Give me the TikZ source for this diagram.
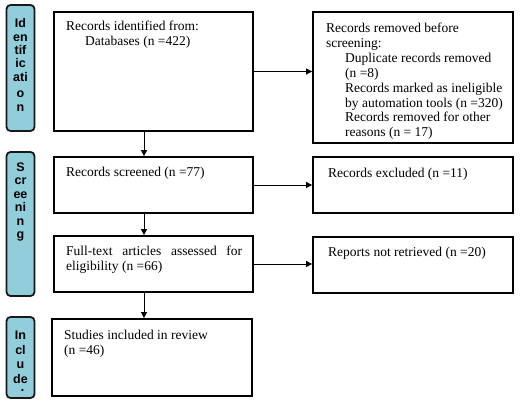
\documentclass[tikz,border=0pt]{standalone}
\usepackage{fontspec}
\setmainfont{Liberation Serif}
\newfontfamily\sidefont{Liberation Sans}
\usetikzlibrary{arrows.meta}
\definecolor{sideblue}{RGB}{146,205,220}
\definecolor{sideedge}{RGB}{25,25,25}
\tikzset{
  mainbox/.style={draw=black, line width=1.8pt, inner sep=0pt, fill=none},
  sidebox/.style={draw=sideedge, line width=1.8pt, fill=sideblue, rounded corners=4pt, inner sep=0pt, minimum width=28pt},
  txt/.style={inner sep=0pt, align=left, font=\fontsize{13.5}{14.86}\selectfont},
  sidetxt/.style={inner sep=0pt, align=center, font=\fontsize{12.5}{13.4}\sidefont\bfseries\selectfont},
  arr/.style={line width=0.8pt, -{Triangle[length=6pt,width=6pt]}},
  ln/.style={line width=0.8pt}
}
\begin{document}
\begin{tikzpicture}[x=1pt,y=-1pt]
\useasboundingbox[fill=white] (0,0) rectangle (525,406);

% side bars
\node[sidebox, minimum height=126pt] (s1) at (20.5,68) {};
\node[sidetxt, anchor=north] (s1t) at (20.5,18.5) {Id\\en\\tif\\ic\\ati\\[2.5pt]o\\[1pt]n};
\node[sidebox, minimum height=144pt] (s2) at (20.5,224) {};
\node[sidetxt, anchor=north] (s2t) at (20.5,162.5) {S\\cr\\ee\\ni\\n\\g};
\node[sidebox, minimum height=81pt] (s3) at (20.5,357.5) {};
\begin{scope}
  \clip (5,320) rectangle (36,390.5);
  \node[sidetxt, anchor=north, font=\fontsize{12.5}{14.7}\sidefont\bfseries\selectfont] (s3t) at (20.5,330.5) {In\\cl\\u\\de\\d};
\end{scope}

% texts
\node[txt, anchor=north west] (t1) at (66,21) {Records identified from:\\\hspace*{19pt}Databases (n =422)};
\begin{scope}
  \clip (313,12) rectangle (516,142);
  \node[txt, anchor=north west] (t2) at (326,23) {Records removed before\\screening:\\\hspace*{19pt}Duplicate records removed\\\hspace*{19pt}(n =8)\\\hspace*{19pt}Records marked as ineligible\\\hspace*{19pt}by automation tools (n =320)\\\hspace*{19pt}Records removed for other\\\hspace*{19pt}reasons (n = 17)};
\end{scope}
\node[txt, anchor=north west] (t3) at (66,167) {Records screened (n =77)};
\node[txt, anchor=north west] (t4) at (328,168) {Records excluded (n =11)};
\node[txt, anchor=north west] (t5) at (66,246) {\makebox[176pt][s]{Full-text articles assessed for}\\eligibility (n =66)};
\node[txt, anchor=north west] (t6) at (328,247) {Reports not retrieved (n =20)};
\node[txt, anchor=north west] (t7) at (64,330) {Studies included in review\\(n =46)};

% boxes
\node[mainbox, minimum width=199pt, minimum height=119pt] (b1) at (153.5,71.5) {};
\node[mainbox, minimum width=200pt, minimum height=131pt] (r1) at (413,77.5) {};
\node[mainbox, minimum width=199pt, minimum height=56pt] (b2) at (153.5,185) {};
\node[mainbox, minimum width=200pt, minimum height=56pt] (r2) at (413,185) {};
\node[mainbox, minimum width=199pt, minimum height=56pt] (b3) at (153.5,264) {};
\node[mainbox, minimum width=200pt, minimum height=56pt] (r3) at (413,265) {};
\node[mainbox, minimum width=200pt, minimum height=77pt] (b4) at (152,357.5) {};

% connectors
\coordinate (v1) at (144,0);
\draw[arr] (b1.east) -- (b1.east -| r1.west);
\draw[arr] (b2.east) -- (b2.east -| r2.west);
\draw[arr] (b3.east) -- (b3.east -| r3.west);
\draw[arr] (v1 |- b1.south) -- (v1 |- b2.north);
\draw[arr] (v1 |- b2.south) -- (v1 |- b3.north);
\draw[arr] (v1 |- b3.south) -- (v1 |- b4.north);
\end{tikzpicture}
\end{document}
